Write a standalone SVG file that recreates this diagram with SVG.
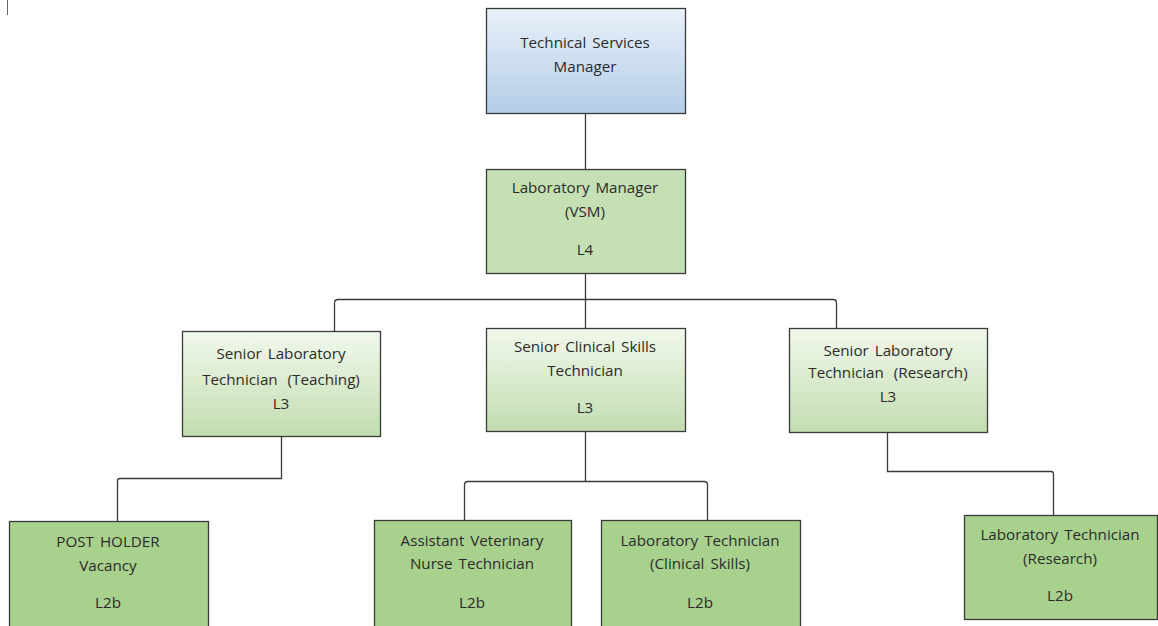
<svg xmlns="http://www.w3.org/2000/svg" width="1158" height="626" viewBox="0 0 1158 626">
<defs>
<linearGradient id="gBlue" x1="0" y1="0" x2="0" y2="1">
<stop offset="0" stop-color="#e9f0f9"/>
<stop offset="1" stop-color="#b3cde8"/>
</linearGradient>
<linearGradient id="gGreen" x1="0" y1="0" x2="0" y2="1">
<stop offset="0" stop-color="#f1f8ec"/>
<stop offset="1" stop-color="#c2ddb0"/>
</linearGradient>
</defs>
<style>
.box{stroke:#3a3a3a;stroke-width:1.3}
.lm{fill:#c5e0b4}
.l2{fill:#a9d18e}
.t{font-family:"Open Sans","Noto Sans","Liberation Sans",sans-serif;font-size:15.2px;word-spacing:2px;fill:#2b2b2b;text-anchor:middle}
.c{fill:none;stroke:#3a3a3a;stroke-width:1.3}
</style>
<rect width="1158" height="626" fill="#fff"/>
<line x1="7.5" y1="0" x2="7.5" y2="15" stroke="#666" stroke-width="1"/>
<g id="connectors">
<path class="c" d="M585.5 113 V169"/>
<path class="c" d="M585.5 273 V328"/>
<path class="c" d="M334.5 331 V303 Q334.5 299.5 338 299.5 H833 Q836.5 299.5 836.5 303 V328"/>
<path class="c" d="M281.5 436 V478.5 H120 Q117.5 478.5 117.5 481 V521"/>
<path class="c" d="M585.5 431 V481.5"/>
<path class="c" d="M464.5 520 V485 Q464.5 481.5 468 481.5 H704 Q707.5 481.5 707.5 485 V520"/>
<path class="c" d="M887.5 432 V471.5 H1051 Q1053.5 471.5 1053.5 474 V515"/>
</g>
<g id="tsm">
<rect class="box" x="486.5" y="8.5" width="199" height="105" fill="url(#gBlue)"/>
<text class="t" x="585" y="48">Technical Services</text>
<text class="t" x="585" y="72">Manager</text>
</g>
<g id="lab-manager">
<rect class="box lm" x="486.5" y="169.5" width="199" height="104"/>
<text class="t" x="585" y="193">Laboratory Manager</text>
<text class="t" x="585" y="217">(VSM)</text>
<text class="t" x="585" y="255">L4</text>
</g>
<g id="slt-teaching">
<rect class="box" x="182.5" y="331.5" width="198" height="105" fill="url(#gGreen)"/>
<text class="t" x="281" y="359">Senior Laboratory</text>
<text class="t" x="281" y="385" style="word-spacing:6px">Technician (Teaching)</text>
<text class="t" x="281" y="409">L3</text>
</g>
<g id="scst">
<rect class="box" x="486.5" y="328.5" width="199" height="103" fill="url(#gGreen)"/>
<text class="t" x="585" y="352">Senior Clinical Skills</text>
<text class="t" x="585" y="376">Technician</text>
<text class="t" x="585" y="413">L3</text>
</g>
<g id="slt-research">
<rect class="box" x="789.5" y="328.5" width="198" height="104" fill="url(#gGreen)"/>
<text class="t" x="888" y="356">Senior Laboratory</text>
<text class="t" x="888" y="378" style="word-spacing:6px">Technician (Research)</text>
<text class="t" x="888" y="402">L3</text>
</g>
<g id="post-holder">
<rect class="box l2" x="9.5" y="521.5" width="199" height="110"/>
<text class="t" x="108" y="547">POST HOLDER</text>
<text class="t" x="108" y="571">Vacancy</text>
<text class="t" x="108" y="608">L2b</text>
</g>
<g id="avnt">
<rect class="box l2" x="374.5" y="520.5" width="197" height="110"/>
<text class="t" x="472" y="546">Assistant Veterinary</text>
<text class="t" x="472" y="569">Nurse Technician</text>
<text class="t" x="472" y="608">L2b</text>
</g>
<g id="lt-clinical">
<rect class="box l2" x="601.5" y="520.5" width="199" height="110"/>
<text class="t" x="700" y="546">Laboratory Technician</text>
<text class="t" x="700" y="569">(Clinical Skills)</text>
<text class="t" x="700" y="608">L2b</text>
</g>
<g id="lt-research">
<rect class="box l2" x="964.5" y="515.5" width="193" height="104"/>
<text class="t" x="1060" y="540">Laboratory Technician</text>
<text class="t" x="1060" y="564">(Research)</text>
<text class="t" x="1060" y="601">L2b</text>
</g>
</svg>
